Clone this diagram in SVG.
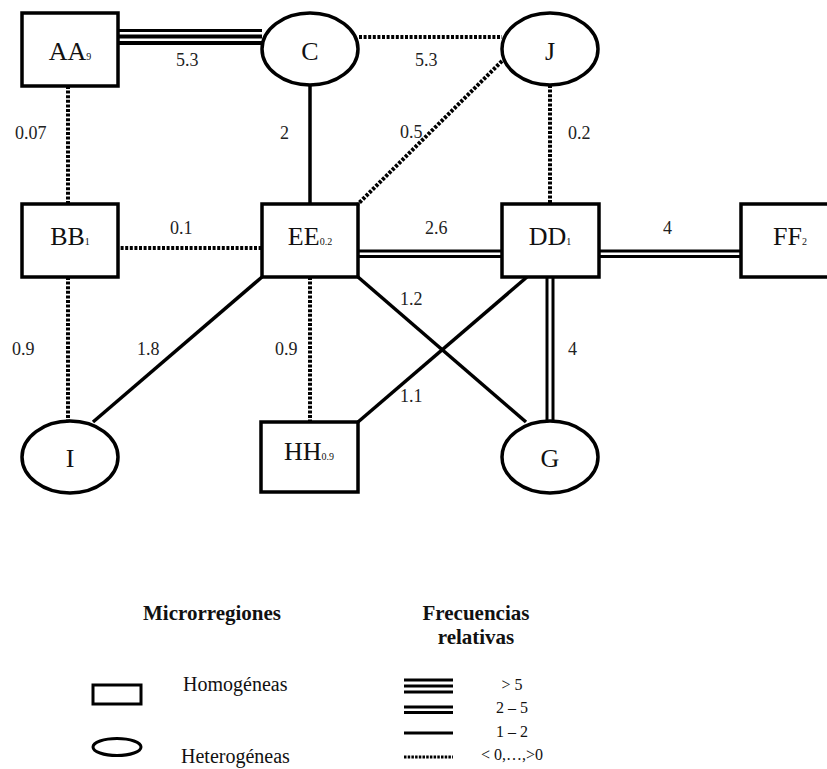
<svg xmlns="http://www.w3.org/2000/svg" width="827" height="769" viewBox="0 0 827 769">
<style>
.node{fill:#fff;stroke:#000;stroke-width:3.5}
.nt{font-family:"Liberation Serif","Times New Roman",serif;font-size:26px;fill:#111;text-anchor:middle}
.sub{font-size:10px}
.lbl{font-family:"Liberation Serif","Times New Roman",serif;font-size:18px;fill:#222}
.sol{stroke:#000;stroke-width:3.5;fill:none}
.thn{stroke:#000;stroke-width:3;fill:none}
.dot{stroke:#000;stroke-width:4;stroke-dasharray:3 1.6;fill:none}
.hdr{font-family:"Liberation Serif","Times New Roman",serif;font-size:21px;font-weight:bold;fill:#111;text-anchor:middle}
.lg{font-family:"Liberation Serif","Times New Roman",serif;font-size:20px;fill:#111}
.lr{font-family:"Liberation Serif","Times New Roman",serif;font-size:16px;fill:#111;text-anchor:middle}
</style>
<rect width="827" height="769" fill="#fff"/>
<g id="connectors">
  <line class="thn" x1="118" y1="30.5" x2="262" y2="30.5"/>
  <line class="sol" x1="118" y1="36.5" x2="262" y2="36.5" style="stroke-width:4"/>
  <line class="sol" x1="118" y1="43" x2="262" y2="43" style="stroke-width:4"/>
  <line class="dot" x1="359" y1="37" x2="502" y2="37"/>
  <line class="dot" x1="68" y1="86" x2="68" y2="204"/>
  <line class="sol" x1="310" y1="85" x2="310" y2="204"/>
  <line class="dot" x1="502" y1="61" x2="358" y2="204"/>
  <line class="dot" x1="550" y1="85" x2="550" y2="204"/>
  <line class="dot" x1="116" y1="248" x2="262" y2="248"/>
  <line class="thn" x1="358" y1="251" x2="502" y2="251"/>
  <line class="thn" x1="358" y1="256.5" x2="502" y2="256.5"/>
  <line class="thn" x1="599" y1="251" x2="741" y2="251"/>
  <line class="thn" x1="599" y1="256.5" x2="741" y2="256.5"/>
  <line class="thn" x1="547" y1="277" x2="547" y2="421"/>
  <line class="thn" x1="553" y1="277" x2="553" y2="421"/>
  <line class="dot" x1="68" y1="277" x2="68" y2="421"/>
  <line class="sol" x1="262" y1="277" x2="93" y2="422"/>
  <line class="dot" x1="310" y1="277" x2="310" y2="422"/>
  <line class="sol" x1="358" y1="277" x2="526" y2="422"/>
  <line class="sol" x1="527" y1="277" x2="358" y2="422"/>
  <text class="lbl" x="176" y="66">5.3</text>
  <text class="lbl" x="415" y="66">5.3</text>
  <text class="lbl" x="15" y="139">0.07</text>
  <text class="lbl" x="280" y="139">2</text>
  <text class="lbl" x="400" y="138">0.5</text>
  <text class="lbl" x="568" y="139">0.2</text>
  <text class="lbl" x="170" y="234">0.1</text>
  <text class="lbl" x="425" y="234">2.6</text>
  <text class="lbl" x="663" y="234">4</text>
  <text class="lbl" x="400" y="305">1.2</text>
  <text class="lbl" x="12" y="355">0.9</text>
  <text class="lbl" x="137" y="355">1.8</text>
  <text class="lbl" x="275" y="355">0.9</text>
  <text class="lbl" x="568" y="355">4</text>
  <text class="lbl" x="400" y="402">1.1</text>
</g>
<g id="AA"><rect class="node" x="22" y="13" width="96" height="73"/><text class="nt" x="70" y="60">AA<tspan class="sub">9</tspan></text></g>
<g id="C"><ellipse class="node" cx="310" cy="49" rx="48" ry="36"/><text class="nt" x="310" y="60">C</text></g>
<g id="J"><ellipse class="node" cx="550" cy="49" rx="48" ry="36"/><text class="nt" x="550" y="60">J</text></g>
<g id="BB"><rect class="node" x="22" y="204" width="96" height="73"/><text class="nt" x="70" y="245">BB<tspan class="sub">1</tspan></text></g>
<g id="EE"><rect class="node" x="262" y="204" width="96" height="73"/><text class="nt" x="310" y="245">EE<tspan class="sub">0.2</tspan></text></g>
<g id="DD"><rect class="node" x="502" y="204" width="97" height="73"/><text class="nt" x="550" y="245">DD<tspan class="sub">1</tspan></text></g>
<g id="FF"><rect class="node" x="741" y="204" width="100" height="73"/><text class="nt" x="790" y="245">FF<tspan class="sub">2</tspan></text></g>
<g id="I"><ellipse class="node" cx="70" cy="457" rx="48" ry="36"/><text class="nt" x="70" y="467">I</text></g>
<g id="HH"><rect class="node" x="261" y="422" width="97" height="70"/><text class="nt" x="309" y="460">HH<tspan class="sub">0.9</tspan></text></g>
<g id="G"><ellipse class="node" cx="550" cy="457" rx="48" ry="36"/><text class="nt" x="550" y="467">G</text></g>
<g id="legend">
  <text class="hdr" x="212" y="620">Microrregiones</text>
  <text class="hdr" x="476" y="620">Frecuencias</text>
  <text class="hdr" x="476" y="644">relativas</text>
  <rect x="93" y="685" width="48" height="19" fill="none" stroke="#000" stroke-width="3"/>
  <ellipse cx="117" cy="747" rx="24" ry="8.5" fill="none" stroke="#000" stroke-width="3"/>
  <text class="lg" x="183" y="691">Homogéneas</text>
  <text class="lg" x="181" y="763">Heterogéneas</text>
  <line x1="404" y1="680" x2="453" y2="680" stroke="#000" stroke-width="3"/>
  <line x1="404" y1="686" x2="453" y2="686" stroke="#000" stroke-width="3"/>
  <line x1="404" y1="692" x2="453" y2="692" stroke="#000" stroke-width="3"/>
  <line x1="404" y1="707" x2="453" y2="707" stroke="#000" stroke-width="3"/>
  <line x1="404" y1="712.5" x2="453" y2="712.5" stroke="#000" stroke-width="3"/>
  <line x1="404" y1="733" x2="453" y2="733" stroke="#000" stroke-width="3"/>
  <line x1="404" y1="757" x2="453" y2="757" stroke="#000" stroke-width="3" stroke-dasharray="2.5 1.2"/>
  <text class="lr" x="512" y="690">&gt; 5</text>
  <text class="lr" x="512" y="713">2 – 5</text>
  <text class="lr" x="512" y="737">1 – 2</text>
  <text class="lr" x="512" y="760">&lt; 0,…,&gt;0</text>
</g>
</svg>
